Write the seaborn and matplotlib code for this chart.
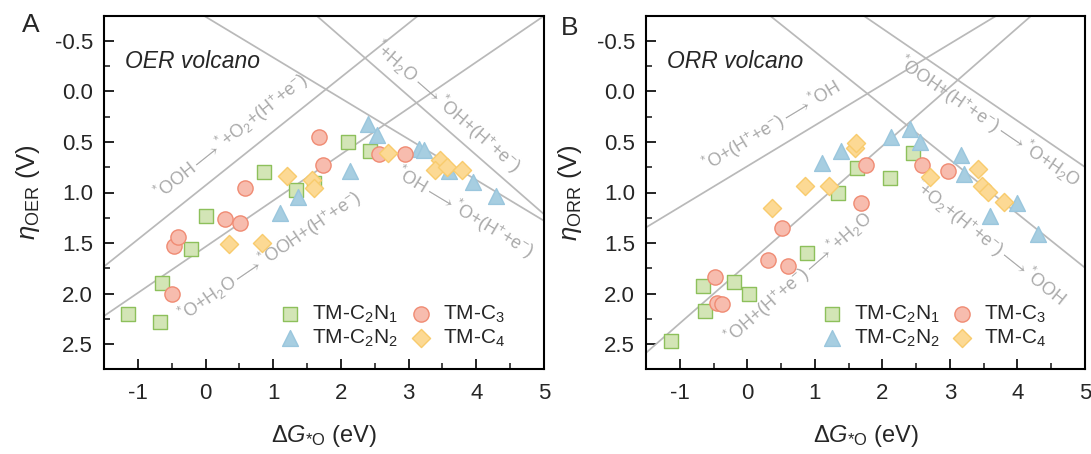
import numpy as np
import matplotlib
matplotlib.use("Agg")
import matplotlib.pyplot as plt
import seaborn as sns

sns.set_style("ticks")
plt.rcParams['font.family'] = ['Liberation Sans', 'DejaVu Sans']
plt.rcParams['mathtext.fontset'] = 'custom'
plt.rcParams['mathtext.rm'] = 'Liberation Sans'
plt.rcParams['mathtext.it'] = 'Liberation Sans:italic'
plt.rcParams['mathtext.bf'] = 'Liberation Sans:bold'

# ---------------- data ----------------
# OER volcano (panel A)
c2n1_oer_x = [-1.15, -0.67, -0.64, -0.22, 0.00, 0.87, 1.33, 1.60, 2.10, 2.43]
c2n1_oer_y = [2.20, 2.28, 1.90, 1.555, 1.23, 0.80, 0.98, 0.905, 0.50, 0.59]
c3_oer_x = [-0.50, -0.47, -0.41, 0.29, 0.51, 0.59, 1.67, 1.73, 2.56, 2.95]
c3_oer_y = [2.00, 1.53, 1.44, 1.265, 1.30, 0.96, 0.45, 0.73, 0.62, 0.62]
c2n2_oer_x = [1.10, 1.36, 2.13, 2.40, 2.53, 3.15, 3.22, 3.59, 3.95, 4.29]
c2n2_oer_y = [1.20, 1.04, 0.785, 0.32, 0.435, 0.57, 0.575, 0.79, 0.895, 1.03]
c4_oer_x = [0.34, 0.84, 1.20, 1.58, 1.60, 2.70, 3.46, 3.39, 3.56, 3.79]
c4_oer_y = [1.51, 1.50, 0.835, 0.88, 0.96, 0.605, 0.675, 0.78, 0.75, 0.78]

# ORR volcano (panel B)
c2n1_orr_x = [-1.13, -0.65, -0.62, -0.20, 0.02, 0.88, 1.34, 1.63, 2.12, 2.46]
c2n1_orr_y = [2.465, 1.93, 2.17, 1.885, 2.005, 1.60, 1.005, 0.76, 0.853, 0.605]
c3_orr_x = [-0.48, -0.45, -0.38, 0.30, 0.52, 0.60, 1.68, 1.75, 2.58, 2.97]
c3_orr_y = [1.835, 2.09, 2.105, 1.67, 1.35, 1.725, 1.105, 0.725, 0.728, 0.787]
c2n2_orr_x = [1.11, 1.38, 2.13, 2.41, 2.56, 3.16, 3.21, 3.60, 3.99, 4.30]
c2n2_orr_y = [0.705, 0.59, 0.45, 0.37, 0.505, 0.625, 0.82, 1.235, 1.107, 1.41]
c4_orr_x = [0.36, 0.85, 1.21, 1.60, 1.61, 2.71, 3.42, 3.48, 3.57, 3.80]
c4_orr_y = [1.155, 0.94, 0.935, 0.555, 0.51, 0.843, 0.764, 0.935, 0.995, 1.09]

# scaling-relation lines for the four OER steps: eta_OER = slope*dG_O + intercept
# (ORR lines are the negatives)
step_slopes = [0.585, 0.404, -0.457, -0.535]
step_intercepts = [-1.71, -0.74, 1.537, 0.93]

series_labels = ['TM-C$_2$N$_1$', 'TM-C$_2$N$_2$', 'TM-C$_3$', 'TM-C$_4$']

oer_labels = [r'$^{*}$+H$_2$O$\longrightarrow$$^{*}$OH+(H$^{+}$+e$^{-}$)',
              r'$^{*}$OH$\longrightarrow$$^{*}$O+(H$^{+}$+e$^{-}$)',
              r'$^{*}$O+H$_2$O$\longrightarrow$$^{*}$OOH+(H$^{+}$+e$^{-}$)',
              r'$^{*}$OOH$\longrightarrow$$^{*}$+O$_2$+(H$^{+}$+e$^{-}$)']
orr_labels = [r'$^{*}$OH+(H$^{+}$+e$^{-}$)$\longrightarrow$$^{*}$+H$_2$O',
              r'$^{*}$O+(H$^{+}$+e$^{-}$)$\longrightarrow$$^{*}$OH',
              r'$^{*}$OOH+(H$^{+}$+e$^{-}$)$\longrightarrow$$^{*}$O+H$_2$O',
              r'$^{*}$+O$_2$+(H$^{+}$+e$^{-}$)$\longrightarrow$$^{*}$OOH']
# label anchor positions (x, eta) for each step line
oer_label_pos = [(3.57, 0.15), (3.83, 1.20), (0.95, 1.63), (0.38, 0.45)]
orr_label_pos = [(0.77, 1.85), (0.37, 0.34), (3.58, 0.30), (3.58, 1.50)]

# ---------------- style ----------------
styles = {
    'TM-C$_2$N$_1$': dict(marker='s', s=95, color='#d3e5b6', edgecolor='#8dc05b'),
    'TM-C$_2$N$_2$': dict(marker='^', s=130, color='#a7cee1', edgecolor='#9ac6dd'),
    'TM-C$_3$': dict(marker='o', s=120, color='#f7bcae', edgecolor='#f08b73'),
    'TM-C$_4$': dict(marker='D', s=85, color='#fcd994', edgecolor='#f8cb6c'),
}
line_color = '#b9b9b9'
text_color = '#a9a9a9'

fig = plt.figure(figsize=(10.91, 4.54), dpi=100)
axA = fig.add_axes([104 / 1091, 1 - 369.3 / 454, 440 / 1091, 353.6 / 454])
axB = fig.add_axes([646 / 1091, 1 - 369.3 / 454, 439 / 1091, 353.6 / 454])

panels = [
    (axA, 1.0, oer_labels, oer_label_pos,
     [(c2n1_oer_x, c2n1_oer_y), (c2n2_oer_x, c2n2_oer_y), (c3_oer_x, c3_oer_y), (c4_oer_x, c4_oer_y)],
     'OER volcano', r'$\eta_{\mathrm{OER}}$ (V)', 'A'),
    (axB, -1.0, orr_labels, orr_label_pos,
     [(c2n1_orr_x, c2n1_orr_y), (c2n2_orr_x, c2n2_orr_y), (c3_orr_x, c3_orr_y), (c4_orr_x, c4_orr_y)],
     'ORR volcano', r'$\eta_{\mathrm{ORR}}$ (V)', 'B'),
]

xs = np.linspace(-1.5, 5.0, 200)
for ax, sign, labels, lpos, data, title, ylab, letter in panels:
    ax.set_xlim(-1.5, 5.0)
    ax.set_ylim(2.75, -0.75)
    for k in range(4):
        m = sign * step_slopes[k]
        b = sign * step_intercepts[k]
        sns.lineplot(x=xs, y=m * xs + b, ax=ax, color=line_color, lw=1.25, zorder=1)
        ax.text(lpos[k][0], lpos[k][1], labels[k], color=text_color, fontsize=12.8,
                rotation=np.degrees(np.arctan(m)), transform_rotates_text=True,
                rotation_mode='anchor', ha='center', va='center', zorder=2)
    for lab, (x, y) in zip(series_labels, data):
        st = styles[lab]
        sns.scatterplot(x=x, y=y, ax=ax, marker=st['marker'], s=st['s'], color=st['color'],
                        edgecolor=st['edgecolor'], linewidth=1.0, zorder=3, label=lab)
    h, l = ax.get_legend_handles_labels()
    ax.legend(h, l, ncol=2, loc='lower left', bbox_to_anchor=(0.39, 0.045), frameon=False,
              fontsize=15, handlelength=1.0, handletextpad=0.55, columnspacing=0.6,
              labelspacing=0.15, borderpad=0.2, borderaxespad=0.0)
    ax.text(0.047, 0.87, title, transform=ax.transAxes, fontsize=16.5, style='italic',
            ha='left', va='center')
    ax.set_xticks(np.arange(-1, 6, 1))
    ax.set_xticks(np.arange(-1.5, 5.01, 0.5), minor=True)
    ax.set_yticks([-0.5, 0.0, 0.5, 1.0, 1.5, 2.0, 2.5])
    ax.set_yticks(np.arange(-0.75, 2.751, 0.25), minor=True)
    ax.set_xticklabels([str(v) for v in range(-1, 6)])
    ax.set_yticklabels(['-0.5', '0.0', '0.5', '1.0', '1.5', '2.0', '2.5'])
    ax.tick_params(which='major', direction='in', length=7.5, width=1.2, labelsize=16,
                   top=False, right=False, color='black')
    ax.tick_params(axis='y', which='major', pad=8)
    ax.tick_params(axis='x', which='major', pad=10)
    ax.tick_params(which='minor', direction='in', length=4, width=1.2, top=False, right=False)
    for sp in ax.spines.values():
        sp.set_visible(True)
        sp.set_linewidth(1.5)
        sp.set_color('black')
    ax.set_xlabel(r'$\Delta G_{*\mathrm{O}}$ (eV)', fontsize=17)
    ax.set_ylabel(ylab, fontsize=18.5)
    ax.xaxis.set_label_coords(0.5, -0.19)
    ax.xaxis.label.set_va('center')
    ax.yaxis.set_label_coords(-0.172, 0.5)
    ax.yaxis.label.set_va('center')

fig.text(30.7 / 1091, 1 - 25 / 454, 'A', fontsize=19, ha='center', va='center')
fig.text(570 / 1091, 1 - 28 / 454, 'B', fontsize=19, ha='center', va='center')

fig.savefig('out.png', dpi=100)
